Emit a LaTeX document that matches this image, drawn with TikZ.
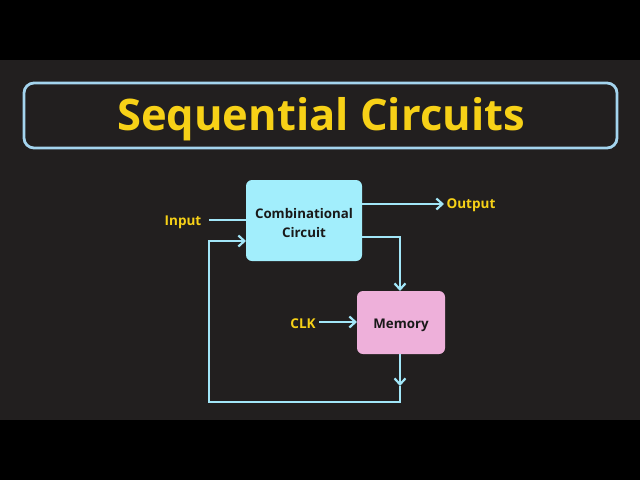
\documentclass[tikz,border=0pt]{standalone}
\usepackage{fontspec}
\setmainfont{Open Sans}
\usetikzlibrary{arrows.meta}
\definecolor{bg}{HTML}{221F1F}
\definecolor{wire}{HTML}{A2E6F8}
\definecolor{ttl}{HTML}{F7D117}
\definecolor{frame}{HTML}{A4D4EE}
\definecolor{combfill}{HTML}{A2EEFC}
\definecolor{memfill}{HTML}{EEB0DA}
\tikzset{
  wireline/.style={draw=wire, line width=2.4pt},
  arr/.style={wireline, -{Straight Barb[length=6pt,width=11pt,line width=2.2pt]}},
  lbl/.style={text=ttl, font=\bfseries\fontsize{13.5}{15}\selectfont},
  blk/.style={rounded corners=6pt, text=black!90, align=center, font=\bfseries\fontsize{13.3}{19}\selectfont}
}
\begin{document}
\begin{tikzpicture}[x=1pt,y=-1pt]
\fill[bg] (0,0) rectangle (640,480);
\fill[black] (0,0) rectangle (640,60);
\fill[black] (0,420) rectangle (640,480);
\useasboundingbox (0,0) rectangle (640,480);
% title
\draw[frame, line width=2.8pt, rounded corners=10pt] (24,83) rectangle (617,148);
\node[text=ttl, font=\bfseries\fontsize{43.5}{48}\selectfont] (title) at (321,119) {Sequential Circuits};
% blocks
\fill[combfill, rounded corners=6pt] (246,180) rectangle (362,261);
\node[blk] (comb) at (304,223) {Combinational\\Circuit};
\fill[memfill, rounded corners=6pt] (357,291) rectangle (445,354);
\node[blk] (mem) at (401,325) {Memory};
% labels
\node[lbl] (input) at (183,222) {Input};
\node[lbl] (output) at (471,205) {Output};
\node[lbl] (clk) at (303,324) {CLK};
% coordinates
\coordinate (inL) at (209,220);
\coordinate (inR) at (246,220);
\coordinate (outL) at (362,204);
\coordinate (outR) at (444,204);
\coordinate (c2m1) at (362,237);
\coordinate (c2m2) at (400,237);
\coordinate (c2m3) at (400,291);
\coordinate (clkL) at (319,322);
\coordinate (clkR) at (357,322);
\coordinate (mb) at (400,354);
\coordinate (mArr) at (400,386);
\coordinate (fb1) at (400,402);
\coordinate (fb2) at (209,402);
\coordinate (fb3) at (209,241);
\coordinate (fb4) at (246,241);
% wires
\draw[wireline] (inL) -- (inR);
\draw[arr] (outL) -- (outR);
\draw[arr] (c2m1) -- (c2m2) -- (c2m3);
\draw[arr] (clkL) -- (clkR);
\draw[arr] (mb) -- (mArr);
\draw[arr] (mArr) -- (fb1) -- (fb2) -- (fb3) -- (fb4);
\end{tikzpicture}
\end{document}
